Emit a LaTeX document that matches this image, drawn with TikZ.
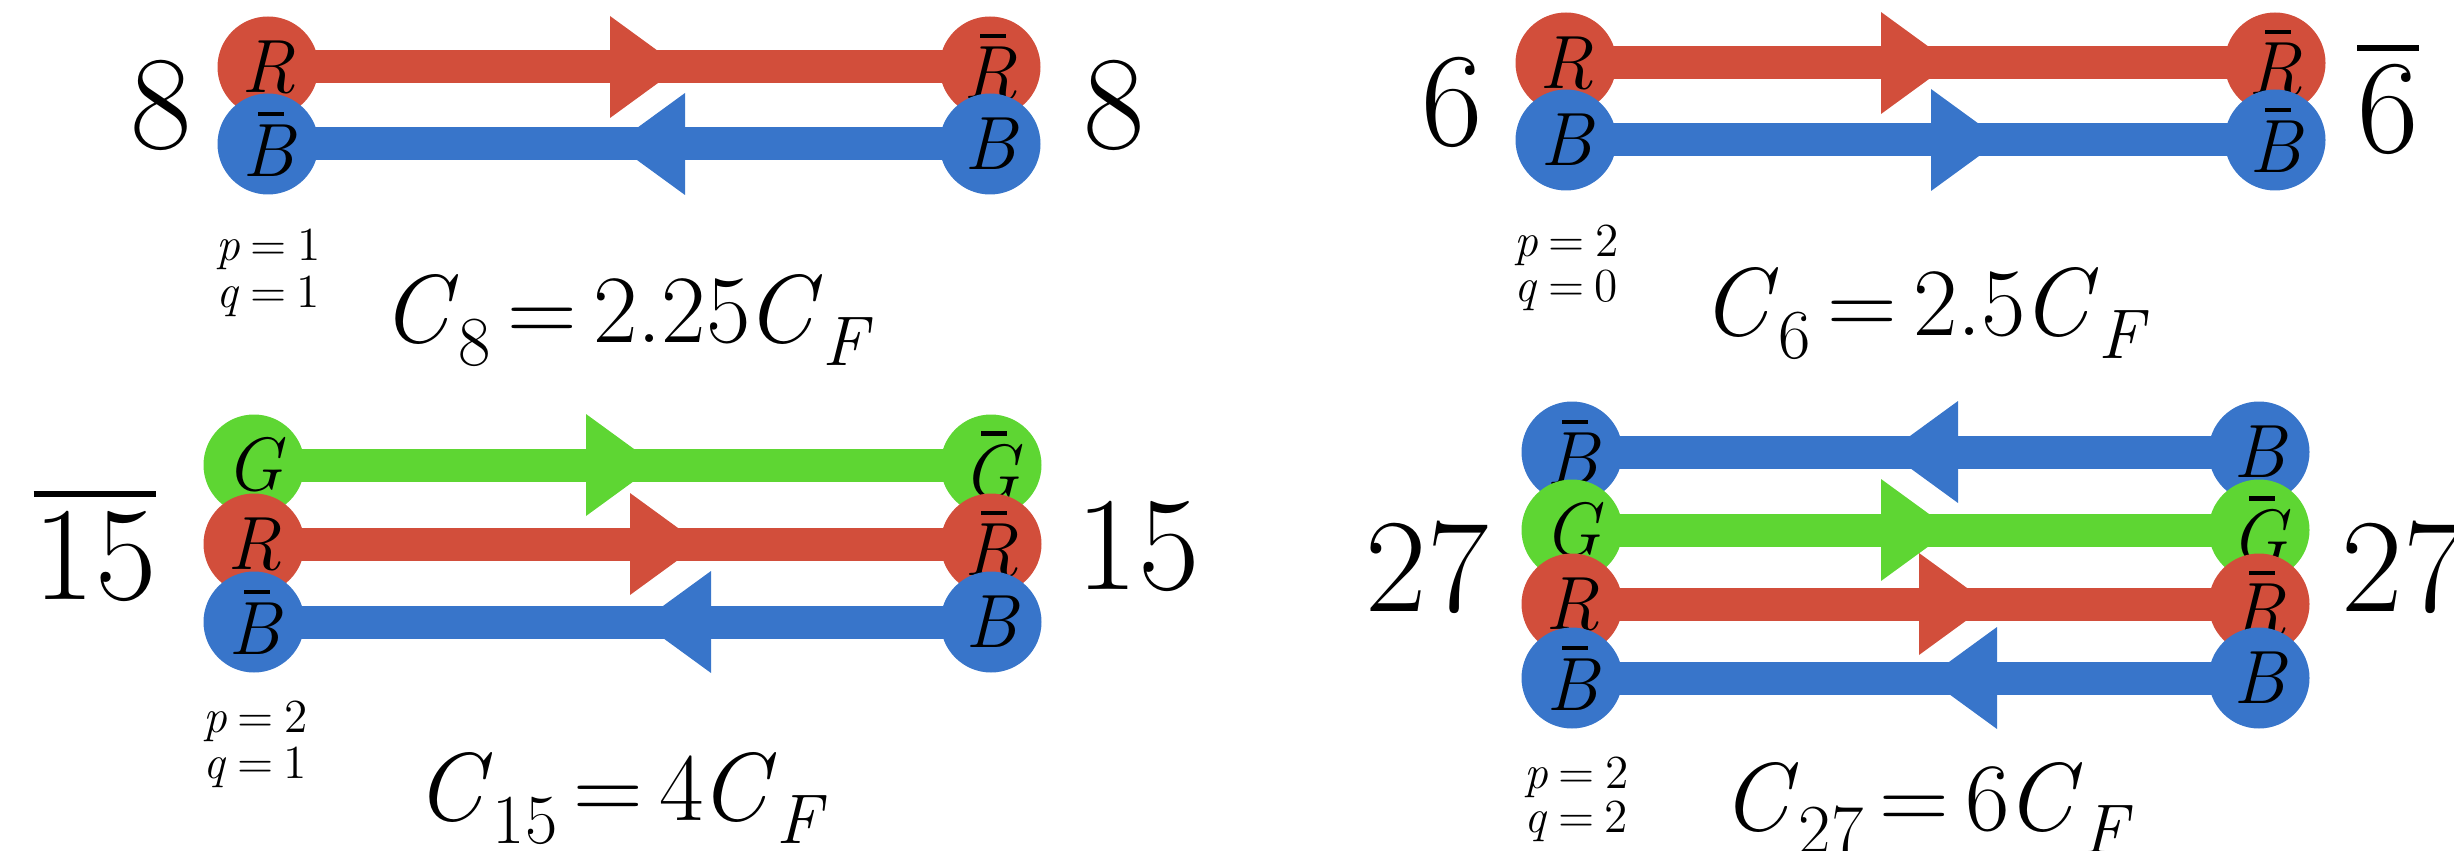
\documentclass[tikz,border=0pt]{standalone}
\usepackage{fontspec}
\usetikzlibrary{arrows.meta,decorations.markings}
\pgfdeclarelayer{bg}
\pgfsetlayers{bg,main}
\definecolor{qred}{RGB}{210,78,59}
\definecolor{qblue}{RGB}{56,117,202}
\definecolor{qgreen}{RGB}{94,214,51}
\newcommand{\barit}[1]{\setbox0\hbox{#1}\rlap{\hbox to\wd0{\hss\hskip0.08em\rule[\dimexpr\ht0+0.11em\relax]{0.34em}{0.055em}\hss}}\box0}
\newcommand{\ovnum}[1]{\setbox0\hbox{#1}\rlap{\hbox to\wd0{\hss\rule[\dimexpr\ht0+0.1em\relax]{\wd0}{0.05em}\hss}}\box0}
\newcommand{\lowsub}[1]{\raisebox{-2.3mm}{\fontsize{20}{20}\selectfont#1}}
\newcommand{\casim}[2]{\textit{C}\lowsub{#1}\hspace{0.17em}=\hspace{0.17em}#2\kern-0.05em\textit{C}\lowsub{\textit{F}}}
\newcommand{\pqeq}[2]{\textit{#1}\hspace{0.22em}=\hspace{0.22em}#2}

\begin{document}
\begin{tikzpicture}[x=0.1mm,y=-0.1mm,
   >={Triangle[length=7mm,width=10.2mm,line width=0pt]},
   nd/.style={circle,fill=#1,minimum size=10.1mm,inner sep=0pt,
     font=\fontsize{21.5}{21.5}\selectfont\itshape},
   ln/.style={#1,line width=3.3mm},
   flow/.style={postaction={decorate,decoration={markings,
     mark=at position #1 with {\arrow{>}}}}},
   rep/.style={anchor=base,inner sep=0pt,font=\fontsize{38}{38}\selectfont},
   pq/.style={anchor=base west,inner sep=0pt,font=\fontsize{13.5}{13.5}\selectfont},
   cas/.style={anchor=base west,inner sep=0pt,font=\fontsize{27.5}{27.5}\selectfont}]
  \useasboundingbox (0,0) rectangle (2454,851);

  \node[nd=qred] (r1a) at (268,67) {R};
  \node[nd=qblue] (b1a) at (268,144) {\barit{B}};
  \node[nd=qred] (r1b) at (990,67) {\barit{R}};
  \node[nd=qblue] (b1b) at (990,144) {B};
  \node[rep] (n1a) at (161,149) {8};
  \node[rep] (n1b) at (1114,149) {8};
  \node[pq] (p1) at (216,260) {\pqeq{p}{1}};
  \node[pq] (q1) at (216,307) {\pqeq{q}{1}};
  \node[cas] (c1) at (381,342) {\casim{8}{2.25}};

  \node[nd=qred] (r2a) at (1566,63) {R};
  \node[nd=qblue] (b2a) at (1566,140) {B};
  \node[nd=qred] (r2b) at (2275,63) {\barit{R}};
  \node[nd=qblue] (b2b) at (2275,140) {\barit{B}};
  \node[rep] (n2a) at (1452,146) {6};
  \node[rep] (n2b) at (2388,153) {\ovnum{6}};
  \node[pq] (p2) at (1514,256) {\pqeq{p}{2}};
  \node[pq] (q2) at (1514,302) {\pqeq{q}{0}};
  \node[cas] (c2) at (1701,335) {\casim{6}{2.5}};

  \node[nd=qgreen] (g3a) at (254,465) {G};
  \node[nd=qred] (r3a) at (254,544) {R};
  \node[nd=qblue] (b3a) at (254,622) {\barit{B}};
  \node[nd=qgreen] (g3b) at (991,465) {\barit{G}};
  \node[nd=qred] (r3b) at (991,544) {\barit{R}};
  \node[nd=qblue] (b3b) at (991,622) {B};
  \node[rep] (n3a) at (95,599) {\ovnum{15}};
  \node[rep] (n3b) at (1138,589) {15};
  \node[pq] (p3) at (203,732) {\pqeq{p}{2}};
  \node[pq] (q3) at (203,778) {\pqeq{q}{1}};
  \node[cas] (c3) at (415,820) {\casim{15}{4}};

  \node[nd=qblue] (b4a) at (1572,452) {\barit{B}};
  \node[nd=qgreen] (g4a) at (1572,530) {G};
  \node[nd=qred] (r4a) at (1572,604) {R};
  \node[nd=qblue] (u4a) at (1572,678) {\barit{B}};
  \node[nd=qblue] (b4b) at (2259,452) {B};
  \node[nd=qgreen] (g4b) at (2259,530) {\barit{G}};
  \node[nd=qred] (r4b) at (2259,604) {\barit{R}};
  \node[nd=qblue] (u4b) at (2259,678) {B};
  \node[rep] (n4a) at (1427,611) {27};
  \node[rep] (n4b) at (2403,611) {27};
  \node[pq] (p4) at (1524,788) {\pqeq{p}{2}};
  \node[pq] (q4) at (1524,832) {\pqeq{q}{2}};
  \node[cas] (c4) at (1721,830) {\casim{27}{6}};

  \begin{pgfonlayer}{bg}
    \draw[ln=qred,flow=41.2mm] (r1a.center)--(r1b.center);
    \draw[ln=qblue,flow=37.5mm] (b1b.center)--(b1a.center);
    \draw[ln=qred,flow=38.5mm] (r2a.center)--(r2b.center);
    \draw[ln=qblue,flow=43.5mm] (b2a.center)--(b2b.center);
    \draw[ln=qgreen,flow=40.2mm] (g3a.center)--(g3b.center);
    \draw[ln=qred,flow=44.6mm] (r3a.center)--(r3b.center);
    \draw[ln=qblue,flow=35mm] (b3b.center)--(b3a.center);
    \draw[ln=qblue,flow=37.1mm] (b4b.center)--(b4a.center);
    \draw[ln=qgreen,flow=37.9mm] (g4a.center)--(g4b.center);
    \draw[ln=qred,flow=41.7mm] (r4a.center)--(r4b.center);
    \draw[ln=qblue,flow=33.2mm] (u4b.center)--(u4a.center);
  \end{pgfonlayer}
\end{tikzpicture}
\end{document}
